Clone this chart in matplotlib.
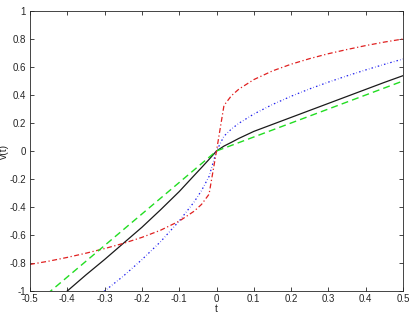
import numpy as np
import matplotlib
matplotlib.use('Agg')
import matplotlib.pyplot as plt

# sample points
t = [-0.5, -0.45, -0.4, -0.35, -0.3, -0.25, -0.2, -0.15, -0.1, -0.06, -0.04, -0.02,
     0.0, 0.02, 0.04, 0.06, 0.1, 0.15, 0.2, 0.25, 0.3, 0.35, 0.4, 0.45, 0.5]

v_black = [-1.23, -1.115, -1.0, -0.885, -0.775, -0.66, -0.545, -0.42, -0.29, -0.175, -0.118, -0.06,
           0.0, 0.035, 0.062, 0.09, 0.14, 0.19, 0.24, 0.29, 0.34, 0.39, 0.44, 0.49, 0.538]
v_blue = [-1.38, -1.29, -1.2, -1.105, -1.0, -0.894, -0.776, -0.648, -0.5, -0.364, -0.282, -0.182,
          0.0, 0.106, 0.157, 0.198, 0.264, 0.332, 0.391, 0.444, 0.492, 0.537, 0.579, 0.619, 0.657]
v_red = [-0.81, -0.787, -0.76, -0.73, -0.697, -0.66, -0.617, -0.566, -0.501, -0.43, -0.381, -0.309,
         0.0, 0.325, 0.395, 0.442, 0.51, 0.572, 0.62, 0.66, 0.695, 0.725, 0.753, 0.778, 0.80]
v_green = [-1.125, -1.0125, -0.9, -0.7875, -0.675, -0.5625, -0.45, -0.3375, -0.225, -0.135, -0.09, -0.045,
           0.0, 0.02, 0.04, 0.06, 0.1, 0.15, 0.2, 0.25, 0.3, 0.35, 0.4, 0.45, 0.5]

plt.rcParams['font.family'] = ['Liberation Sans', 'DejaVu Sans']

fig = plt.figure(figsize=(4.15, 3.14), dpi=100)
ax = fig.add_axes([30/415, 23/314, 373/415, 280/314])

ax.plot(t, v_black, color='#1a1a1a', lw=0.9)
ax.plot(t, v_blue, color='#2020ee', lw=0.9, linestyle=(0, (1.2, 1.8, 0.4, 1.8)))
ax.plot(t, v_red, color='#e02020', lw=0.9, linestyle=(0, (4, 2, 1, 2)))
ax.plot(t, v_green, color='#22dd22', lw=1.0, linestyle=(0, (5, 3)))

ax.set_xlim(-0.5, 0.5)
ax.set_ylim(-1, 1)
ax.set_xticks(np.arange(-0.5, 0.51, 0.1))
ax.set_yticks(np.arange(-1, 1.01, 0.2))
ax.set_xticklabels(['-0.5', '-0.4', '-0.3', '-0.2', '-0.1', '0', '0.1', '0.2', '0.3', '0.4', '0.5'])
ax.set_yticklabels(['-1', '-0.8', '-0.6', '-0.4', '-0.2', '0', '0.2', '0.4', '0.6', '0.8', '1'])
ax.tick_params(direction='in', length=3, width=0.6, labelsize=7, colors='#262626',
               top=True, right=True)
ax.tick_params(axis='x', pad=2)
ax.tick_params(axis='y', pad=3)
for s in ax.spines.values():
    s.set_linewidth(0.6)
    s.set_color('#262626')

ax.set_xlabel('t', fontsize=7.5, color='#262626')
ax.set_ylabel('v(t)', fontsize=7.5, color='#262626')
ax.xaxis.set_label_coords(0.5, -0.047)
ax.yaxis.set_label_coords(-0.056, 0.5)

fig.savefig('out.png', dpi=100)
